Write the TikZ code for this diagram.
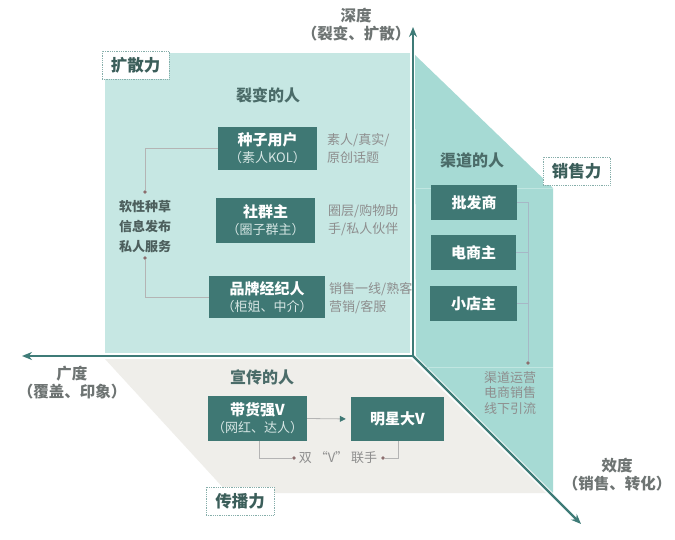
\documentclass[tikz,border=0pt]{standalone}
\usepackage{fontspec}
\setmainfont{Noto Sans CJK SC}
\usetikzlibrary{arrows.meta}
\definecolor{lightpanel}{HTML}{C6E7E3}
\definecolor{rightpanel}{HTML}{A6DAD4}
\definecolor{rightline}{HTML}{C0E6E1}
\definecolor{beige}{HTML}{EFEEEA}
\definecolor{boxc}{HTML}{3F7874}
\definecolor{axisc}{HTML}{3E7B77}
\definecolor{titlec}{HTML}{4B6C69}
\definecolor{sidec}{HTML}{8E8E8E}
\definecolor{leftc}{HTML}{4D5F5D}
\definecolor{labc}{HTML}{3B5E5A}
\definecolor{labborder}{HTML}{86AEAA}
\definecolor{axlab}{HTML}{6E7473}
\definecolor{connc}{HTML}{B4B4B4}
\definecolor{connb}{HTML}{A6B8C6}
\definecolor{dotc}{HTML}{8C6E6E}
\definecolor{subc}{HTML}{D6E6E4}
\tikzset{
  darkbox/.style={draw=none, fill=boxc, text=white, align=center, inner sep=0pt,
    font=\fontsize{15}{17}\selectfont\bfseries},
  paneltitle/.style={text=titlec, font=\fontsize{16}{18}\selectfont\bfseries},
  sidetext/.style={text=sidec, align=left, anchor=west, inner sep=0pt,
    font=\fontsize{13}{18}\selectfont},
  lefttext/.style={text=leftc, align=center, inner sep=0pt,
    font=\fontsize{13}{20}\selectfont\bfseries},
  labelbox/.style={draw=labborder, densely dotted, line width=0.8pt, fill=white,
    text=labc, inner sep=0pt, font=\fontsize{16.5}{18}\selectfont\bfseries},
  axislabel/.style={text=axlab, align=center, inner sep=0pt,
    font=\fontsize{15.5}{18}\selectfont\bfseries},
  axisline/.style={draw=axisc, line width=2.2pt, -{Stealth[length=10pt,width=8pt]}},
  conn/.style={draw=connc, line width=0.7pt},
  connB/.style={draw=connb, line width=0.7pt},
  dotmark/.style={circle, fill=dotc, inner sep=0pt, minimum size=3.6pt},
}
\begin{document}
\begin{tikzpicture}[x=1pt,y=-1pt]
\useasboundingbox[fill=white] (0,0) rectangle (675,540);
% panels
\fill[lightpanel] (105,53) rectangle (410,353);
\fill[rightpanel] (415,55) -- (553,188) -- (553,493) -- (416,356) -- cycle;
\draw[rightline, line width=0.8pt] (415,188) -- (553,188);
\draw[rightline, line width=0.8pt] (425,367) -- (553,367);
\fill[beige] (105,359) -- (411,359) -- (546,493) -- (228,493) -- cycle;
% axes
\coordinate (O) at (413,356);
\coordinate (Ytop) at (413,27);
\coordinate (Xleft) at (22,356);
\coordinate (Zend) at (581,524);
\draw[axisline] ([yshift=-1pt]O) -- (Ytop);
\draw[axisline] ([xshift=1pt]O) -- (Xleft);
\draw[axisline] (O) -- (Zend);
% axis labels
\node[axislabel] (lbDepth) at (356,25) {深度\\（裂变、扩散）};
\node[axislabel] (lbWidth) at (72,383) {广度\\（覆盖、印象）};
\node[axislabel] (lbEff) at (617,475) {效度\\（销售、转化）};
% label boxes
\node[labelbox, minimum width=67pt, minimum height=28pt] (kuosan) at (135.5,65) {扩散力};
\node[labelbox, minimum width=67pt, minimum height=28pt] (xiaoshou) at (576.5,171) {销售力};
\node[labelbox, minimum width=68pt, minimum height=28pt] (chuanbo) at (240,501) {传播力};
% top-left panel
\node[paneltitle] (t1) at (268,95) {裂变的人};
\node[darkbox, minimum width=99pt, minimum height=43pt] (seed) at (267.5,148.5)
  {种子用户\\{\fontsize{13}{17}\selectfont\mdseries\color{subc}（素人KOL）}};
\node[darkbox, minimum width=99pt, minimum height=45pt] (group) at (265.5,220.5)
  {社群主\\{\fontsize{13}{17}\selectfont\mdseries\color{subc}（圈子群主）}};
\node[darkbox, minimum width=116pt, minimum height=42pt] (brand) at (267,297)
  {品牌经纪人\\{\fontsize{13}{17}\selectfont\mdseries\color{subc}（柜姐、中介）}};
\node[sidetext] (s1) at (327,149) {素人/真实/\\原创话题};
\node[sidetext] (s2) at (328,220) {圈层/购物助\\手/私人伙伴};
\node[sidetext] (s3) at (329,298) {销售一线/熟客\\营销/客服};
\node[lefttext] (lt) at (145,227) {软性种草\\信息发布\\私人服务};
\node[dotmark] (d1) at (145,192) {};
\node[dotmark] (d2) at (145,258) {};
\draw[conn] (seed.west) -| (d1);
\draw[conn] (d2) |- (brand.west);
% right panel
\node[paneltitle] (t2) at (472,160) {渠道的人};
\node[darkbox, minimum width=86pt, minimum height=35pt] (pf) at (474,202.5) {批发商};
\node[darkbox, minimum width=85pt, minimum height=35pt] (ds) at (473.5,252.5) {电商主};
\node[darkbox, minimum width=87pt, minimum height=35pt] (xd) at (473.5,303.5) {小店主};
\node[dotmark] (d3) at (528,363) {};
\coordinate (rtop) at (528,202.5);
\draw[connB] (pf.east) -- (rtop) -- (d3);
\draw[connB] (ds.east) -- (ds.east -| rtop);
\draw[connB] (xd.east) -- (xd.east -| rtop);
\node[align=center, inner sep=0pt, text=sidec, font=\fontsize{13}{15.5}\selectfont] (rt) at (510,393) {渠道运营\\电商销售\\线下引流};
% bottom panel
\node[paneltitle] (t3) at (262,377) {宣传的人};
\node[darkbox, minimum width=99pt, minimum height=45pt] (dh) at (257.5,418.5)
  {带货强V\\{\fontsize{13}{17}\selectfont\mdseries\color{subc}（网红、达人）}};
\node[darkbox, minimum width=93pt, minimum height=44pt] (mx) at (397.5,419) {明星大V};
\draw[draw=connc, line width=0.8pt, shorten >=5pt, -{Triangle[length=6pt,width=6pt,color=boxc]}] (dh.east) -- (mx.west);
\node[text=sidec, inner sep=0pt, font=\fontsize{13}{15}\selectfont] (sv) at (338,458) {双 “V” 联手};
\node[dotmark] (d4) at (294,458) {};
\node[dotmark] (d5) at (383,458) {};
\coordinate (dhb) at (259,441);
\coordinate (mxb) at (398,441);
\draw[conn] (dhb) |- (d4);
\draw[conn] (d5) -| (mxb);
\end{tikzpicture}
\end{document}
